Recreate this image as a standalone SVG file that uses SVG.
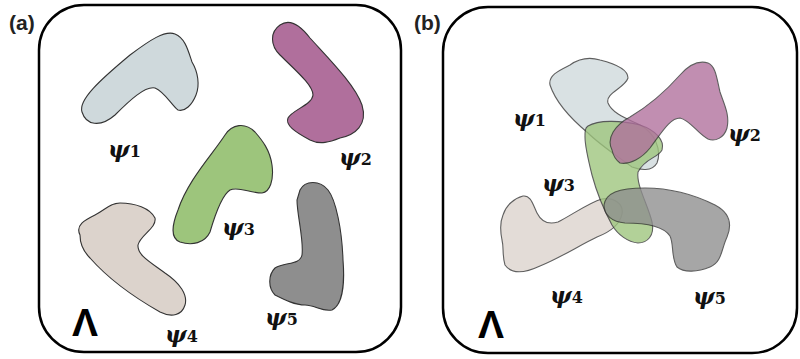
<svg xmlns="http://www.w3.org/2000/svg" width="800" height="359" viewBox="0 0 800 359">
<style>
.frame{fill:none;stroke:#000;stroke-width:2.5}
.blob{stroke:#333;stroke-width:1.1}
.p1{fill:#cfd9dc}
.p2{fill:#b06f9c}
.p3{fill:#9dc57c}
.p4{fill:#dcd3cc}
.p5{fill:#8e8e8e}
.ov{opacity:0.78}
.lab{font-family:"DejaVu Serif",serif;font-weight:bold;font-style:italic;font-size:23px;fill:#111}
.sub{font-family:"DejaVu Serif",serif;font-weight:bold;font-style:normal;font-size:16px}
.panel{font-family:"Liberation Sans",sans-serif;font-weight:bold;font-size:21px;fill:#222}
.lam{font-family:"Liberation Sans",sans-serif;font-weight:bold;font-size:39px;fill:#000}
</style>
<text class="panel" x="9" y="30">(a)</text>
<text class="panel" x="414" y="30">(b)</text>
<g id="panel-a">
<rect class="frame" x="39" y="5" width="362" height="347" rx="45"/>
<g id="a-psi1"><path class="blob p1" d="M 82,112 C 78,100 100,80 130,55 C 150,40 165,30 175,34 C 185,38 188,50 192,62 C 198,72 200,85 196,95 C 192,105 185,112 178,110 C 172,106 165,92 155,88 C 145,86 130,100 115,115 C 100,128 86,125 82,112 Z"/>
<text class="lab" x="108" y="157">ψ<tspan class="sub">1</tspan></text></g>
<g id="a-psi2"><path class="blob p2" d="M 280,25 C 290,18 300,25 310,38 C 330,60 355,85 362,105 C 368,125 355,135 340,138 C 330,142 320,145 310,140 C 295,132 285,125 288,118 C 292,110 312,105 313,95 C 313,85 295,70 280,55 C 270,45 270,32 280,25 Z"/>
<text class="lab" x="339" y="165">ψ<tspan class="sub">2</tspan></text></g>
<g id="a-psi3"><path class="blob p3" d="M 225,135 C 232,124 245,122 255,132 C 262,140 270,150 272,165 C 274,180 270,192 262,193 C 250,193 238,186 230,190 C 222,195 215,215 210,232 C 205,243 192,246 180,242 C 170,238 172,225 178,210 C 188,180 212,155 225,135 Z"/>
<text class="lab" x="222" y="235">ψ<tspan class="sub">3</tspan></text></g>
<g id="a-psi4"><path class="blob p4" d="M 80,235 C 75,225 85,220 95,215 C 105,210 110,203 120,203 C 135,203 150,208 155,218 C 157,228 140,235 138,245 C 137,255 150,262 165,273 C 180,283 188,295 185,305 C 182,315 172,318 160,312 C 130,295 105,275 90,258 C 82,250 80,243 80,235 Z"/>
<text class="lab" x="165" y="342">ψ<tspan class="sub">4</tspan></text></g>
<g id="a-psi5"><path class="blob p5" d="M 300,190 C 305,180 320,180 328,190 C 336,200 342,230 343,260 C 345,285 342,305 332,310 C 322,312 315,305 305,305 C 295,305 285,300 275,295 C 268,288 268,275 275,268 C 285,262 300,265 302,255 C 304,240 297,215 297,200 Z"/>
<text class="lab" x="265" y="325">ψ<tspan class="sub">5</tspan></text></g>
<text class="lam" x="72" y="336">Λ</text>
</g>
<g id="panel-b">
<rect class="frame" x="443" y="7" width="354" height="346" rx="45"/>
<g id="b-psi1"><path class="blob p1 ov" d="M 550,85 C 548,75 560,70 570,65 C 580,58 590,57 600,60 C 612,63 628,68 628,78 C 625,88 605,93 608,103 C 612,113 625,118 640,125 C 655,133 662,150 657,163 C 652,172 640,170 632,167 C 620,158 600,145 588,133 C 570,118 555,100 550,85 Z"/>
<text class="lab" x="513" y="126">ψ<tspan class="sub">1</tspan></text></g>
<g id="b-psi4"><path class="blob p4 ov" d="M 503,215 C 506,205 515,198 523,196 C 531,195 533,205 537,213 C 541,221 548,225 558,222 C 572,215 588,203 602,199 C 614,197 624,204 622,214 C 620,224 610,232 597,237 C 580,245 560,258 540,266 C 525,273 512,275 505,265 C 502,255 504,248 502,240 C 500,230 500,222 503,215 Z"/>
<text class="lab" x="550" y="303">ψ<tspan class="sub">4</tspan></text></g>
<g id="b-psi3"><path class="blob p3 ov" d="M 588,126 C 598,120 620,120 640,125 C 655,130 665,140 662,150 C 658,158 645,158 638,172 C 636,185 648,205 652,222 C 655,236 647,243 638,243 C 628,242 618,235 612,225 C 604,210 596,190 592,175 C 587,155 585,145 585,137 C 585,131 585,128 588,126 Z"/>
<text class="lab" x="542" y="191">ψ<tspan class="sub">3</tspan></text></g>
<g id="b-psi5"><path class="blob p5 ov" d="M 604,205 C 606,193 618,188 645,188 C 670,188 695,195 715,205 C 730,213 732,225 727,237 C 721,250 722,262 710,267 C 698,272 684,273 677,267 C 671,258 674,244 670,236 C 664,227 648,223 625,223 C 612,222 604,215 604,205 Z"/>
<text class="lab" x="693" y="304">ψ<tspan class="sub">5</tspan></text></g>
<g id="b-psi2"><path class="blob p2 ov" d="M 612,150 C 606,138 615,125 630,117 C 645,108 665,92 680,75 C 688,66 698,60 708,63 C 716,66 717,80 720,92 C 724,104 730,115 727,128 C 724,138 715,142 708,139 C 698,134 690,120 680,118 C 670,118 662,132 650,148 C 642,158 630,165 620,163 C 616,160 613,155 612,150 Z"/>
<text class="lab" x="728" y="141">ψ<tspan class="sub">2</tspan></text></g>
<text class="lam" x="478" y="338">Λ</text>
</g>
</svg>
